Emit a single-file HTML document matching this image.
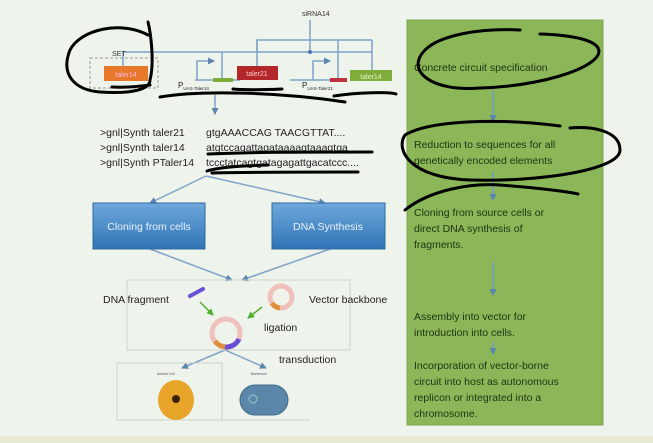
<!DOCTYPE html>
<html><head><style>
html,body{margin:0;padding:0;background:#eef3ec;}
svg{display:block;font-family:"Liberation Sans",sans-serif;}
</style></head><body>
<svg width="653" height="443" viewBox="0 0 653 443" xmlns="http://www.w3.org/2000/svg">
<defs>
<linearGradient id="bg" x1="0" y1="0" x2="0" y2="1"><stop offset="0" stop-color="#6fa8dc"/><stop offset="1" stop-color="#2f74b5"/></linearGradient>
<marker id="ah" markerUnits="userSpaceOnUse" markerWidth="7" markerHeight="7" refX="6" refY="3.5" orient="auto"><path d="M0,0 L7,3.5 L0,7 z" fill="#5b86b0"/></marker>
<marker id="gh" markerUnits="userSpaceOnUse" markerWidth="7" markerHeight="7" refX="6" refY="3.5" orient="auto"><path d="M0,0 L7,3.5 L0,7 z" fill="#4caf2a"/></marker>
</defs>
<rect width="653" height="443" fill="#eef3ec"/>
<rect x="0" y="436" width="653" height="7" fill="#e6e9cf"/>
<rect x="407" y="20" width="196" height="405" fill="#8bb758" stroke="#7ea64e"/>
<g fill="#1e3312" font-size="10.5">
<text x="414" y="71">Concrete circuit specification</text>
<text x="414" y="148">Reduction to sequences for all</text>
<text x="414" y="164">genetically encoded elements</text>
<text x="414" y="216">Cloning from source cells or</text>
<text x="414" y="232">direct DNA synthesis of</text>
<text x="414" y="248">fragments.</text>
<text x="414" y="320">Assembly into vector for</text>
<text x="414" y="336">introduction into cells.</text>
<text x="414" y="369">Incorporation of vector-borne</text>
<text x="414" y="385">circuit into host as autonomous</text>
<text x="414" y="401">replicon or integrated into a</text>
<text x="414" y="417">chromosome.</text>
</g>
<g stroke="#6d9cc4" stroke-width="1.5">
<line x1="493" y1="90" x2="493" y2="121" marker-end="url(#ah)"/>
<line x1="493" y1="172" x2="493" y2="200" marker-end="url(#ah)"/>
<line x1="493" y1="262" x2="493" y2="295" marker-end="url(#ah)"/>
<line x1="493" y1="342" x2="493" y2="354" marker-end="url(#ah)"/>
</g>
<text x="302" y="16" font-size="7" fill="#333">siRNA14</text>
<g stroke="#7fa3c8" stroke-width="1.5" fill="none">
<line x1="310" y1="20" x2="310" y2="52"/>
<polyline points="123,66 123,52 372,52"/>
<line x1="222" y1="52" x2="222" y2="78"/>
<polyline points="257,52 257,40 372,40"/>
<line x1="257" y1="40" x2="257" y2="68"/>
<line x1="338" y1="40" x2="338" y2="78"/>
<line x1="372" y1="40" x2="372" y2="70"/>
<line x1="195" y1="80" x2="240" y2="80"/>
<line x1="290" y1="80" x2="345" y2="80"/>
<polyline points="197,80 197,61 214,61" marker-end="url(#ah)"/>
<polyline points="313,80 313,61 330,61" marker-end="url(#ah)"/>
<line x1="215" y1="95" x2="215" y2="114" marker-end="url(#ah)"/>
</g>
<circle cx="310" cy="52" r="2" fill="#4a7bb0"/>
<rect x="90" y="58" width="68" height="30" fill="none" stroke="#999" stroke-dasharray="3,2"/>
<text x="112" y="56" font-size="7" fill="#333">SET</text>
<rect x="104" y="66" width="44" height="15" fill="#e8782a"/>
<text x="126" y="77" font-size="7" fill="#fbe" text-anchor="middle">taler14</text>
<rect x="237" y="66" width="41" height="14" fill="#b3262a"/>
<text x="257" y="76" font-size="7" fill="#fcc" text-anchor="middle">taler21</text>
<rect x="350" y="70" width="42" height="11" fill="#7fae3a"/>
<text x="371" y="79" font-size="7" fill="#e8f5d0" text-anchor="middle">taler14</text>
<rect x="213" y="78" width="20" height="4" fill="#7fae3a"/>
<rect x="330" y="78" width="17" height="4" fill="#c0303a"/>
<text x="178" y="88" font-size="8" fill="#222">P<tspan font-size="4.5" dy="2">UAS-Taler14</tspan></text>
<text x="302" y="88" font-size="8" fill="#222">P<tspan font-size="4.5" dy="2">UAS-Taler21</tspan></text>
<g font-size="10.5" fill="#222">
<text x="100" y="136">&gt;gnl|Synth taler21</text>
<text x="100" y="151">&gt;gnl|Synth taler14</text>
<text x="100" y="166">&gt;gnl|Synth PTaler14</text>
<text x="206" y="136">gtgAAACCAG TAACGTTAT....</text>
<text x="206" y="151">atgtccagattagataaaagtaaagtga</text>
<text x="206" y="166">tccctatcagtgatagagattgacatccc....</text>
</g>
<g stroke="#7fa3c8" stroke-width="1.5" fill="none">
<line x1="206" y1="176" x2="150" y2="203" marker-end="url(#ah)"/>
<line x1="206" y1="176" x2="325" y2="203" marker-end="url(#ah)"/>
<line x1="150" y1="249" x2="232" y2="280" marker-end="url(#ah)"/>
<line x1="330" y1="249" x2="242" y2="280" marker-end="url(#ah)"/>
<line x1="225" y1="350" x2="182" y2="368" marker-end="url(#ah)"/>
<line x1="225" y1="350" x2="266" y2="368" marker-end="url(#ah)"/>
</g>
<rect x="93" y="203" width="112" height="46" fill="url(#bg)" stroke="#2f6aa0"/>
<text x="149" y="230" font-size="10.5" fill="#e8f2fc" text-anchor="middle">Cloning from cells</text>
<rect x="272" y="203" width="113" height="46" fill="url(#bg)" stroke="#2f6aa0"/>
<text x="328" y="230" font-size="10.5" fill="#e8f2fc" text-anchor="middle">DNA Synthesis</text>
<rect x="127" y="280" width="223" height="70" fill="none" stroke="#cdd3cc"/>
<rect x="117" y="363" width="105" height="57" fill="none" stroke="#cdd3cc"/>
<line x1="117" y1="420" x2="310" y2="420" stroke="#cdd3cc"/>
<text x="103" y="303" font-size="10.5" fill="#222">DNA fragment</text>
<text x="309" y="303" font-size="10.5" fill="#222">Vector backbone</text>
<text x="264" y="331" font-size="10.5" fill="#222">ligation</text>
<text x="279" y="363" font-size="10.5" fill="#222">transduction</text>
<line x1="190" y1="296" x2="203" y2="289" stroke="#6a4fd6" stroke-width="4" stroke-linecap="round"/>
<circle cx="281" cy="297" r="11" fill="none" stroke="#f0c0bc" stroke-width="5"/>
<path d="M272,303 A11,11 0 0 0 280,308" fill="none" stroke="#e0903a" stroke-width="5"/>
<circle cx="226" cy="333" r="14" fill="none" stroke="#f0c0bc" stroke-width="5"/>
<path d="M215,341 A14,14 0 0 0 225,347" fill="none" stroke="#e0903a" stroke-width="5"/>
<path d="M225,347 A14,14 0 0 0 239,339" fill="none" stroke="#6a4fd6" stroke-width="5"/>
<line x1="200" y1="302" x2="213" y2="315" stroke="#4caf2a" stroke-width="1.5" marker-end="url(#gh)"/>
<line x1="262" y1="307" x2="248" y2="318" stroke="#4caf2a" stroke-width="1.5" marker-end="url(#gh)"/>
<text x="157" y="375" font-size="3.5" fill="#555">Animal Cell</text>
<text x="251" y="375" font-size="3.5" fill="#555">Bacterium</text>
<ellipse cx="176" cy="400" rx="18" ry="20" fill="#e8a52a"/>
<circle cx="176" cy="399" r="4" fill="#3a2005"/>
<rect x="240" y="385" width="48" height="30" rx="15" fill="#5a86a8" stroke="#3f6a8a"/>
<circle cx="253" cy="399" r="4" fill="none" stroke="#9cc"/>
<g stroke="#000" stroke-width="3" fill="none" stroke-linecap="round">
<path d="M148,35 C120,20 80,30 70,50 C60,75 75,90 100,92 C130,94 150,90 150,80 C155,60 150,30 148,22"/>
<path d="M112,87 C130,88 140,86 150,85"/>
<path d="M160,97 C200,90 280,92 345,102"/>
<path d="M233,89 C245,90 260,90 282,89"/>
<path d="M334,96 C360,92 390,92 396,94"/>
<path d="M208,154 C260,152 300,152 372,152"/>
<path d="M207,171 C220,167 240,166 268,165"/>
<path d="M212,173 C260,172 300,172 358,172"/>
<path d="M520,30 C480,28 440,35 425,50 C405,70 430,92 480,88 C540,86 590,70 598,55 C605,40 570,35 540,34"/>
<path d="M560,126 C500,118 430,120 405,135 C395,150 410,178 470,180 C540,182 620,170 620,150 C620,130 590,126 570,128"/>
<path d="M405,210 C430,190 470,183 500,185 C540,188 570,192 578,194"/>
</g>
</svg>
</body></html>
